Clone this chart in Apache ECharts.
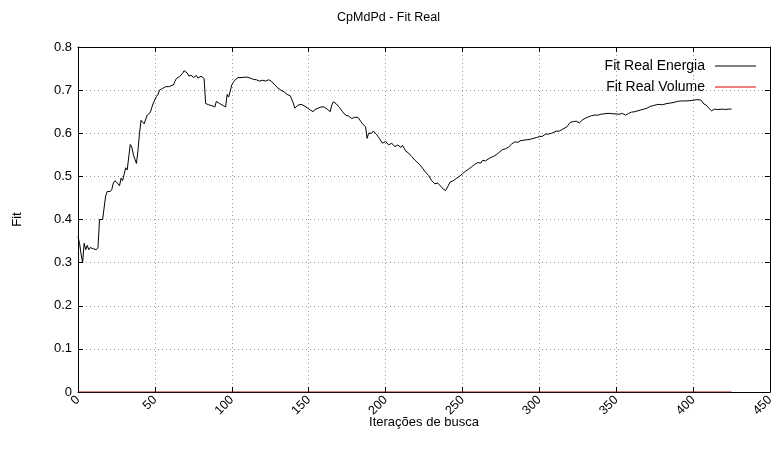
<!DOCTYPE html>
<html>
<head>
<meta charset="utf-8">
<script src="https://cdn.jsdelivr.net/npm/echarts@6/dist/echarts.min.js"></script>
<style>
  html, body { margin: 0; padding: 0; background: #fff; }
  #main-chart { width: 777px; height: 457px; }
</style>
</head>
<body>
<div id="main-chart"></div>
<script>
// dados
var iteracoes = [0,1,2,3,4,5,6,7,8,10,12,13,14,16,17,18,19,21,22,23,24,25,26,27,28,29,30,31,32,33,34,35,36,37,38,39,40,41,42,43,44,45,46,47,48,49,50,51,52,53,54,55,56,57,58,59,60,62,63,64,66,67,68,69,70,71,72,73,74,75,76,77,78,79,80,81,82,83,84,85,86,87,88,89,90,91,92,93,94,95,96,97,98,99,100,101,102,103,104,105,106,107,108,109,110,111,112,113,114,115,116,117,118,119,120,121,122,123,124,125,126,127,128,129,130,131,132,133,134,135,136,137,138,139,140,141,142,143,144,145,146,147,148,149,150,151,152,153,154,155,156,157,158,159,160,161,162,163,164,165,166,167,168,169,170,171,172,173,174,175,176,177,178,179,180,181,182,183,184,185,186,187,188,189,190,191,192,193,194,195,196,197,198,199,200,201,202,203,204,205,206,207,208,209,210,211,212,213,214,215,216,217,218,219,220,222,224,226,228,229,230,231,232,233,234,235,236,237,238,239,240,241,242,243,244,245,246,248,250,252,254,256,258,259,260,261,262,263,264,265,266,268,270,272,274,276,278,280,282,284,285,286,288,290,292,294,296,298,300,302,304,306,308,309,311,312,313,315,316,318,319,320,322,324,326,328,330,332,334,336,338,340,342,344,346,348,350,352,354,356,358,360,362,364,366,368,370,372,374,376,378,380,381,383,385,387,390,393,396,399,401,403,404,405,406,407,408,409,410,411,412,413,414,415,416,417,419,421,423,425];
var fitEnergia = [0.36,0.345,0.32,0.30,0.345,0.33,0.34,0.33,0.335,0.332,0.33,0.335,0.40,0.40,0.40,0.455,0.465,0.465,0.47,0.485,0.49,0.487,0.483,0.478,0.496,0.49,0.505,0.52,0.515,0.545,0.574,0.568,0.55,0.54,0.53,0.56,0.60,0.63,0.626,0.622,0.62,0.642,0.646,0.648,0.66,0.67,0.678,0.685,0.69,0.70,0.703,0.704,0.705,0.708,0.71,0.708,0.71,0.712,0.72,0.727,0.731,0.735,0.739,0.745,0.747,0.74,0.733,0.731,0.734,0.729,0.731,0.734,0.728,0.726,0.732,0.729,0.727,0.669,0.668,0.666,0.667,0.664,0.663,0.661,0.674,0.671,0.669,0.667,0.665,0.663,0.661,0.69,0.684,0.68,0.712,0.718,0.723,0.727,0.729,0.731,0.729,0.727,0.73,0.734,0.73,0.727,0.728,0.726,0.725,0.723,0.724,0.722,0.721,0.724,0.723,0.72,0.721,0.723,0.724,0.722,0.72,0.716,0.712,0.709,0.705,0.703,0.70,0.698,0.696,0.692,0.69,0.688,0.687,0.685,0.67,0.658,0.662,0.665,0.666,0.667,0.665,0.664,0.662,0.659,0.656,0.654,0.652,0.65,0.655,0.658,0.658,0.659,0.661,0.663,0.661,0.658,0.656,0.652,0.65,0.665,0.673,0.67,0.668,0.664,0.66,0.655,0.65,0.646,0.642,0.645,0.64,0.636,0.634,0.633,0.637,0.641,0.637,0.633,0.627,0.622,0.619,0.615,0.588,0.60,0.60,0.60,0.605,0.602,0.598,0.593,0.588,0.582,0.577,0.58,0.581,0.577,0.573,0.575,0.577,0.573,0.569,0.571,0.573,0.569,0.567,0.572,0.566,0.559,0.557,0.554,0.55,0.546,0.542,0.538,0.536,0.528,0.519,0.51,0.502,0.498,0.49,0.488,0.483,0.481,0.484,0.481,0.477,0.472,0.469,0.467,0.469,0.48,0.487,0.488,0.49,0.493,0.495,0.50,0.506,0.512,0.517,0.522,0.528,0.526,0.532,0.534,0.531,0.537,0.538,0.536,0.54,0.543,0.546,0.55,0.556,0.562,0.564,0.568,0.575,0.58,0.582,0.579,0.583,0.584,0.585,0.586,0.588,0.59,0.592,0.593,0.598,0.598,0.60,0.598,0.605,0.608,0.605,0.609,0.611,0.615,0.619,0.625,0.627,0.628,0.624,0.631,0.635,0.638,0.641,0.642,0.642,0.644,0.645,0.646,0.646,0.645,0.645,0.644,0.646,0.642,0.646,0.649,0.65,0.652,0.654,0.656,0.658,0.662,0.664,0.666,0.667,0.666,0.665,0.669,0.67,0.671,0.674,0.675,0.675,0.676,0.677,0.678,0.679,0.677,0.674,0.668,0.665,0.664,0.659,0.656,0.652,0.654,0.656,0.653,0.655,0.654,0.656,0.655,0.656,0.656];
// volume fica em zero em todas as iterações
var iteracoesVolume = [0, 425];
var fitVolume = [0, 0];

var fonte = 'Liberation Sans';

function pares(xs, ys) {
	var out = [];
	for (var i = 0; i < xs.length; i++) out.push([xs[i], ys[i]]);
	return out;
}

var eixoBase = {
	type: 'value',
	axisLine: {show: true, onZero: false, lineStyle: {color: '#000', width: 1}},
	axisTick: {show: true, inside: true, length: 5, lineStyle: {color: '#000'}},
	splitLine: {show: false}
};

option = {
	backgroundColor: '#fff',
	animation: false,
	title: {
		text: 'CpMdPd - Fit Real',
		left: 'center',
		top: 6,
		textStyle: {fontFamily: fonte, fontSize: 12.5, fontWeight: 'normal', color: '#000'}
	},
	legend: {
		orient: 'vertical',
		right: 16,
		top: 54,
		align: 'right',
		itemWidth: 41,
		itemHeight: 1,
		itemGap: 7,
		icon: 'rect',
		textStyle: {fontFamily: fonte, fontSize: 14, color: '#000', padding: [0, 5, 0, 0]},
		data: ['Fit Real Energia', 'Fit Real Volume']
	},
	grid: {left: 78, right: 7, top: 47, bottom: 65},
	xAxis: [
		Object.assign({}, eixoBase, {
			min: 0, max: 450, interval: 50,
			name: 'Iterações de busca',
			nameLocation: 'middle',
			nameGap: 24,
			nameMoveOverlap: false,
			nameTextStyle: {fontFamily: fonte, fontSize: 13, color: '#000'},
			axisLabel: {rotate: 45, fontFamily: fonte, fontSize: 12.5, color: '#000', margin: 6},
			splitLine: {show: true, lineStyle: {color: '#999', type: [1, 3]}}
		}),
		Object.assign({}, eixoBase, {
			position: 'top', min: 0, max: 450, interval: 50,
			axisLabel: {show: false}
		})
	],
	yAxis: [
		Object.assign({}, eixoBase, {
			min: 0, max: 0.8, interval: 0.1,
			name: 'Fit',
			nameLocation: 'middle',
			nameGap: 54,
			nameMoveOverlap: false,
			nameTextStyle: {fontFamily: fonte, fontSize: 13, color: '#000'},
			axisLabel: {fontFamily: fonte, fontSize: 13, color: '#000', margin: 6},
			splitLine: {show: true, lineStyle: {color: '#999', type: [1, 3]}}
		}),
		Object.assign({}, eixoBase, {
			position: 'right', min: 0, max: 0.8, interval: 0.1,
			axisLabel: {show: false}
		})
	],
	series: [
		{
			name: 'Fit Real Energia',
			type: 'line',
			showSymbol: false,
			color: '#000',
			lineStyle: {color: '#000', width: 1},
			data: pares(iteracoes, fitEnergia)
		},
		{
			name: 'Fit Real Volume',
			type: 'line',
			showSymbol: false,
			color: '#e00000',
			lineStyle: {color: '#8b1a1a', width: 1.2},
			data: pares(iteracoesVolume, fitVolume)
		}
	]
};

var myChart = echarts.init(document.getElementById('main-chart'));
myChart.setOption(option);
</script>
</body>
</html>
